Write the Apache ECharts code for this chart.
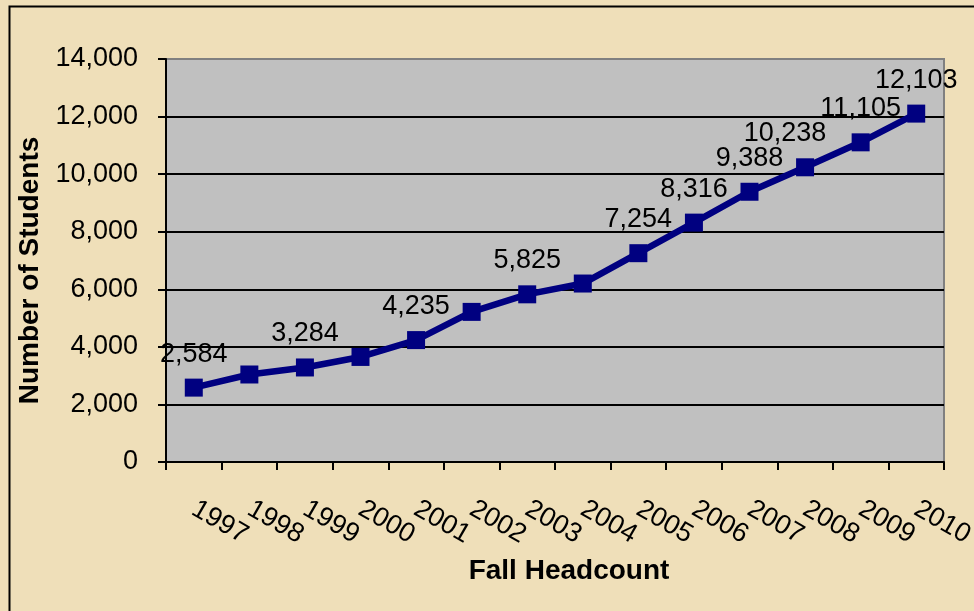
<!DOCTYPE html>
<html>
<head>
<meta charset="utf-8">
<style type="text/css">
	html, body{
		margin: 0;
		padding: 0;
		background-color: #efdfb9;
	}
	#headcount{
		width: 974px;
		height: 611px;
	}
</style>
</head>
<body>
<div id="headcount"></div>
<script src="https://cdn.jsdelivr.net/npm/echarts@6/dist/echarts.min.js"></script>
<script>
// fall headcount by year
var years = ['1997','1998','1999','2000','2001','2002','2003','2004','2005','2006','2007','2008','2009','2010'];
var students = [2584, 3040, 3284, 3650, 4235, 5215, 5825, 6200, 7254, 8316, 9388, 10238, 11105, 12103];
// which points carry a value label in the original
var labelled = [true, false, true, false, true, false, true, false, true, true, true, true, true, true];
var yTicks = [0, 2000, 4000, 6000, 8000, 10000, 12000, 14000];

var font = '"Liberation Sans", Arial, sans-serif';
function fmt(v){
	return Number(v).toLocaleString('en-US');
}

var points = [];
for(var i=0;i<students.length;i++){
	var item = {value: students[i], label: {show: labelled[i]}};
	if(years[i] == '2008'){
		item.label.offset = [-20, 0]; // excel nudged this one left
	}
	points.push(item);
}

var chart = echarts.init(document.getElementById('headcount'), null, {renderer: 'canvas'});
option = {
	backgroundColor: '#efdfb9',
	animation: false,
	grid: {
		left: 166,
		right: 30,
		top: 59,
		bottom: 149,
		show: true,
		backgroundColor: '#c0c0c0',
		borderColor: '#808080',
		borderWidth: 2,
		outerBoundsMode: 'none'
	},
	xAxis: {
		type: 'category',
		data: years,
		boundaryGap: true,
		name: 'Fall Headcount',
		nameLocation: 'middle',
		nameGap: 95,
		nameTextStyle: {
			color: '#000',
			fontFamily: font,
			fontSize: 28,
			fontWeight: 'bold',
			padding: [0, 0, 0, 28]
		},
		axisLine: {show: true, lineStyle: {color: '#000', width: 2}},
		axisTick: {show: true, interval: 0, alignWithLabel: false, length: 8, lineStyle: {color: '#000', width: 2}},
		axisLabel: {
			interval: 0,
			rotate: -30,
			margin: 45,
			color: '#000',
			fontFamily: font,
			fontSize: 27
		},
		splitLine: {show: false}
	},
	yAxis: {
		type: 'value',
		min: yTicks[0],
		max: yTicks[yTicks.length-1],
		interval: 2000,
		name: 'Number of Students',
		nameLocation: 'middle',
		nameGap: 117,
		nameTextStyle: {
			color: '#000',
			fontFamily: font,
			fontSize: 28,
			fontWeight: 'bold',
			padding: [0, 20, 0, 0]
		},
		axisLine: {show: true, lineStyle: {color: '#000', width: 2}},
		axisTick: {show: true, length: 8, lineStyle: {color: '#000', width: 2}},
		axisLabel: {
			margin: 28,
			color: '#000',
			fontFamily: font,
			fontSize: 27,
			formatter: fmt
		},
		splitLine: {show: true, showMaxLine: false, lineStyle: {color: '#000', width: 2}}
	},
	series: [{
		name: 'Students',
		type: 'line',
		data: points,
		symbol: 'rect',
		symbolSize: 18,
		showSymbol: true,
		showAllSymbol: true,
		lineStyle: {color: '#000080', width: 6.5},
		itemStyle: {color: '#000080', borderWidth: 0},
		label: {
			position: 'top',
			distance: 11,
			color: '#000',
			fontFamily: font,
			fontSize: 27,
			formatter: function(p){ return fmt(p.value); }
		},
		emphasis: {disabled: true}
	}],
	graphic: [{
		type: 'rect',
		left: 7,
		top: 4,
		shape: {width: 1000, height: 700},
		style: {fill: 'none', stroke: '#000', lineWidth: 2},
		silent: true
	}]
};
chart.setOption(option);
window.addEventListener('resize', function () {
	chart.resize();
});
</script>
</body>
</html>
